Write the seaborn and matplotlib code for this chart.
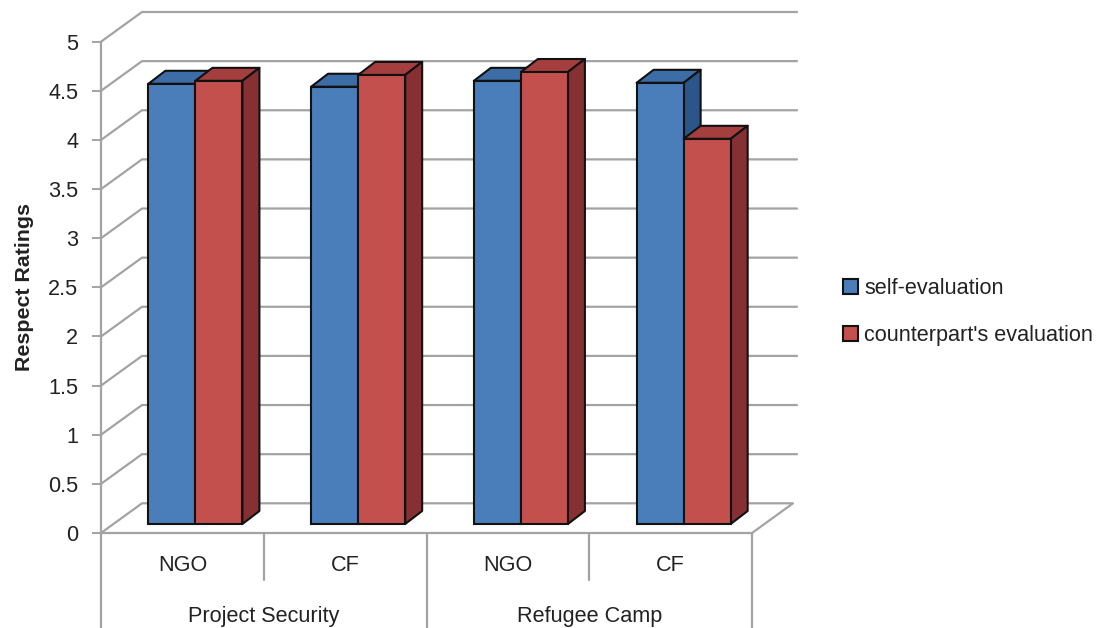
import matplotlib
matplotlib.use("Agg")
import matplotlib.pyplot as plt
from matplotlib.patches import Polygon
from matplotlib.transforms import Affine2D
import numpy as np
import pandas as pd
import seaborn as sns

groups = ["Project Security", "Refugee Camp"]
roles = ["NGO", "CF", "NGO", "CF"]
series_names = ["self-evaluation", "counterpart's evaluation"]
self_eval = [4.48, 4.45, 4.51, 4.49]
counterpart_eval = [4.51, 4.57, 4.60, 3.92]
y_ticks = [0, 0.5, 1, 1.5, 2, 2.5, 3, 3.5, 4, 4.5, 5]
y_tick_labels = ["0", "0.5", "1", "1.5", "2", "2.5", "3", "3.5", "4", "4.5", "5"]

BLUE, BLUE_TOP, BLUE_SIDE = "#4a7ebb", "#3c6da6", "#2c5689"
RED, RED_TOP, RED_SIDE = "#c4504e", "#a53f3f", "#863033"
GRAY = "#a3a3a3"
TXT = "#222222"

sns.set_theme(style="white")
plt.rcParams["font.family"] = ["Liberation Sans", "DejaVu Sans"]

W, H = 1097, 628
fig = plt.figure(figsize=(W / 100, H / 100), dpi=100)
ax = fig.add_axes([101 / W, (H - 533) / H, 651 / W, 491.3 / H])

cats = [f"{i}" for i in range(len(roles))]
df = pd.DataFrame({
    "cat": cats * 2,
    "series": [series_names[0]] * 4 + [series_names[1]] * 4,
    "value": self_eval + counterpart_eval,
})
sns.barplot(data=df, x="cat", y="value", hue="series", order=cats,
            palette=[BLUE, RED], saturation=1, width=0.578, gap=0,
            edgecolor="#111111", linewidth=1.5, ax=ax)

ax.set_xlim(-0.5, 3.5)
ax.set_ylim(0, 5)
px_x = 651 / 4
px_y = 491.3 / 5

# 3-D look: back wall and bar depth, in data units derived from pixel sizes
wall_dx, wall_dy = 41 / px_x, 29.7 / px_y
grid_extra = 4 / px_x
bar_ox, bar_oy = 13 / px_x, 9 / px_y
bar_dx, bar_dy = 17 / px_x, 13 / px_y

# walls / gridlines
for t in y_ticks[1:]:
    ax.plot([-0.5, -0.5 + wall_dx, 3.5 + wall_dx + grid_extra], [t, t + wall_dy, t + wall_dy],
            color=GRAY, lw=1.6, clip_on=False, zorder=1, solid_joinstyle="miter")
ax.plot([-0.5, -0.5 + wall_dx, 3.5 + wall_dx, 3.5], [0, wall_dy, wall_dy, 0],
        color=GRAY, lw=1.6, clip_on=False, zorder=1)

shift = Affine2D().translate(bar_ox, bar_oy) + ax.transData
for k, (container, top_c, side_c) in enumerate(zip(ax.containers, [BLUE_TOP, RED_TOP], [BLUE_SIDE, RED_SIDE])):
    z = 3 + k
    for p in container:
        x0, w, h = p.get_x(), p.get_width(), p.get_height()
        x1 = x0 + w
        p.set_transform(shift)
        p.set_clip_on(False)
        p.set_zorder(z + 0.5)
        top = [(x0, h), (x1, h), (x1 + bar_dx, h + bar_dy), (x0 + bar_dx, h + bar_dy)]
        side = [(x1, 0), (x1 + bar_dx, bar_dy), (x1 + bar_dx, h + bar_dy), (x1, h)]
        for verts, col in ((top, top_c), (side, side_c)):
            ax.add_patch(Polygon(verts, closed=True, facecolor=col, edgecolor="#111111",
                                 lw=1.5, transform=shift, clip_on=False, zorder=z,
                                 joinstyle="round"))

# axes
for s in ("top", "right"):
    ax.spines[s].set_visible(False)
for s in ("left", "bottom"):
    ax.spines[s].set_color(GRAY)
    ax.spines[s].set_linewidth(1.6)
    ax.spines[s].set_zorder(2)

ax.set_yticks(y_ticks, y_tick_labels)
ax.tick_params(axis="y", length=6.5, width=1.4, color=GRAY, pad=10,
               labelsize=15.6, labelcolor=TXT, left=True)
ax.set_xticks(range(len(roles)), roles)
ax.tick_params(axis="x", length=0, pad=16, labelsize=15.6, labelcolor=TXT)
ax.set_xlabel("")
ax.set_ylabel("Respect Ratings", fontsize=15.4, fontweight="bold", color=TXT)
ax.yaxis.set_label_coords(-67 / 651, 0.5)

# multi-level category separators
xt = ax.get_xaxis_transform()
short, long_ = -47 / 491.3, -96 / 491.3
for x in (0.5, 2.5):
    ax.plot([x, x], [0, short], color=GRAY, lw=1.6, transform=xt, clip_on=False)
for x in (-0.5, 1.5, 3.5):
    ax.plot([x, x], [0, long_], color=GRAY, lw=1.6, transform=xt, clip_on=False)
for g, xc in zip(groups, (0.5, 2.5)):
    ax.text(xc, -83.5 / 491.3, g, transform=xt, ha="center", va="center", fontsize=15.6, color=TXT)

# legend
handles, labels = ax.get_legend_handles_labels()
leg = fig.legend(handles, labels, loc="center left", bbox_to_anchor=(843 / W, 1 - 312 / H),
                 frameon=False, fontsize=15.6, handlelength=0.7, handleheight=0.7,
                 handletextpad=0.28, labelspacing=1.2, borderpad=0, borderaxespad=0,
                 labelcolor=TXT)
if ax.get_legend():
    ax.get_legend().remove()

fig.savefig("out.png", dpi=100, facecolor="white")
